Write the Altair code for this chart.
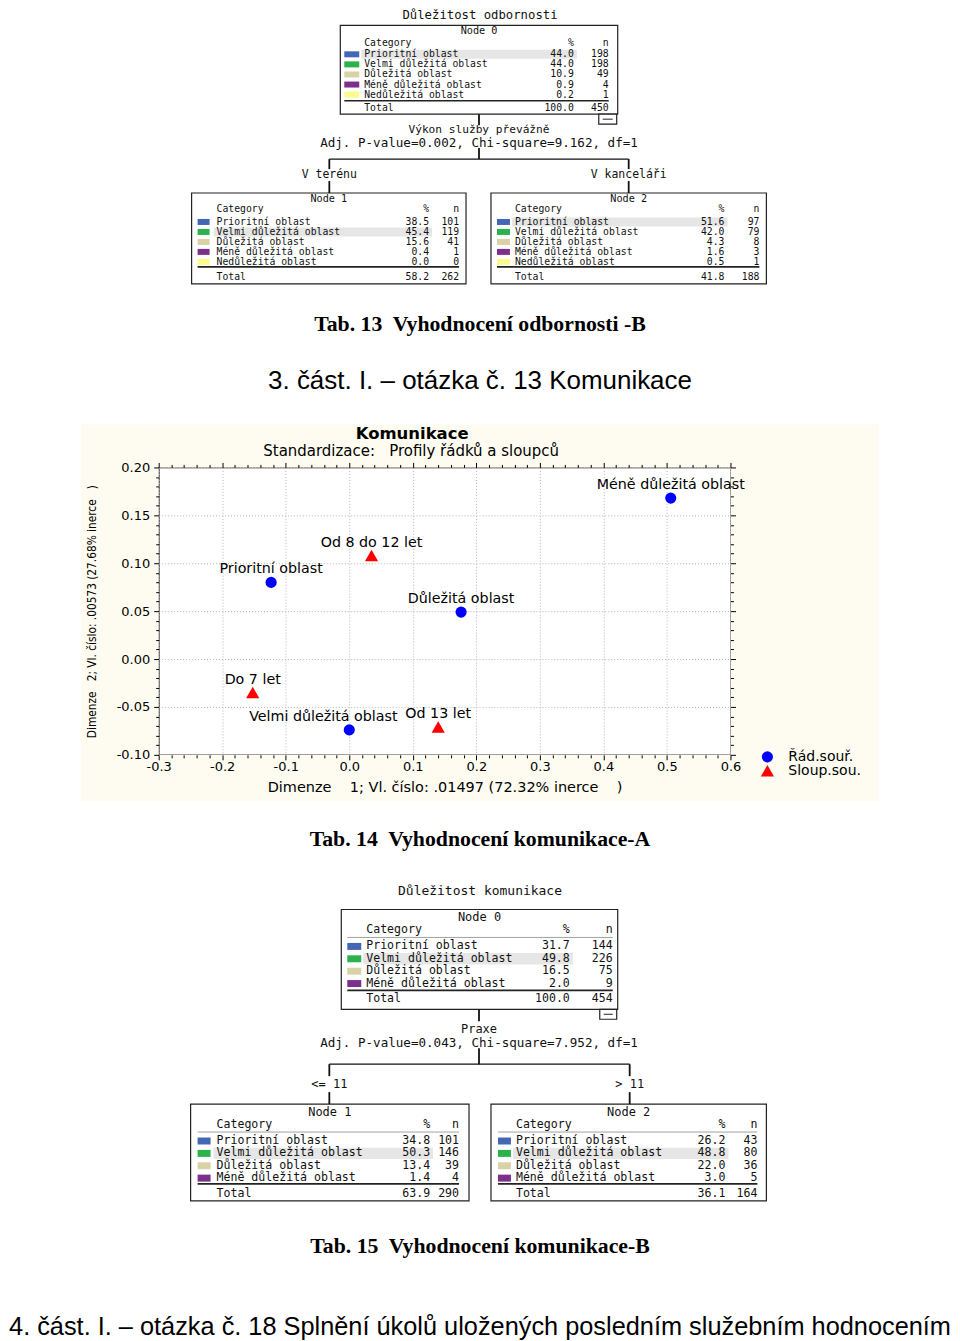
import altair as alt
import numpy as np
import pandas as pd

# ======================= DATA =======================
categories = ["Prioritní oblast", "Velmi důležitá oblast", "Důležitá oblast",
              "Méně důležitá oblast", "Nedůležitá oblast"]

# --- tree 1: Důležitost odbornosti ---
t1_title = "Důležitost odbornosti"
t1_split_var = "Výkon služby převážně"
t1_split_stat = "Adj. P-value=0.002, Chi-square=9.162, df=1"
t1_branches = ["V terénu", "V kanceláři"]
t1_node0_pct = [44.0, 44.0, 10.9, 0.9, 0.2]
t1_node0_n = [198, 198, 49, 4, 1]
t1_node1_pct = [38.5, 45.4, 15.6, 0.4, 0.0]
t1_node1_n = [101, 119, 41, 1, 0]
t1_node2_pct = [51.6, 42.0, 4.3, 1.6, 0.5]
t1_node2_n = [97, 79, 8, 3, 1]
t1_total_pct = [100.0, 58.2, 41.8]
t1_total_n = [450, 262, 188]

# --- tree 2: Důležitost komunikace ---
t2_title = "Důležitost komunikace"
t2_split_var = "Praxe"
t2_split_stat = "Adj. P-value=0.043, Chi-square=7.952, df=1"
t2_branches = ["<= 11", "> 11"]
t2_node0_pct = [31.7, 49.8, 16.5, 2.0]
t2_node0_n = [144, 226, 75, 9]
t2_node1_pct = [34.8, 50.3, 13.4, 1.4]
t2_node1_n = [101, 146, 39, 4]
t2_node2_pct = [26.2, 48.8, 22.0, 3.0]
t2_node2_n = [43, 80, 36, 5]
t2_total_pct = [100.0, 63.9, 36.1]
t2_total_n = [454, 290, 164]

# --- correspondence analysis (Komunikace) ---
row_labels = ["Prioritní oblast", "Velmi důležitá oblast", "Důležitá oblast", "Méně důležitá oblast"]
row_dim1 = [-0.123, 0.000, 0.176, 0.506]
row_dim2 = [0.080, -0.074, 0.049, 0.168]
col_labels = ["Do 7 let", "Od 8 do 12 let", "Od 13 let"]
col_dim1 = [-0.152, 0.035, 0.140]
col_dim2 = [-0.035, 0.108, -0.071]
legend_labels = ["Řád.souř.", "Sloup.sou."]
sc_title = "Komunikace"
sc_subtitle = "Standardizace:\u00a0\u00a0 Profily řádků a sloupců"
x_title = "Dimenze\u00a0\u00a0\u00a0 1; Vl. číslo: .01497 (72.32% inerce\u00a0\u00a0\u00a0 )"
y_title = "Dimenze\u00a0\u00a0 2; Vl. číslo: .00573 (27.68% inerce\u00a0\u00a0 )"
x_ticks = [round(v, 2) for v in np.arange(-30, 61, 2) / 100]
y_ticks = [round(v, 2) for v in np.arange(-10, 21, 1) / 100]

captions = ["Tab. 13\u00a0 Vyhodnocení odbornosti -B",
            "Tab. 14\u00a0 Vyhodnocení komunikace-A",
            "Tab. 15\u00a0 Vyhodnocení komunikace-B"]
headings = ["3. část. I. – otázka č. 13 Komunikace",
            "4. část. I. – otázka č. 18 Splnění úkolů uložených posledním služebním hodnocením"]

# ======================= STYLE / LAYOUT =======================
MONO = "DejaVu Sans Mono"
SANS = "DejaVu Sans"
ARIAL = "Liberation Sans, Arial, sans-serif"
SERIF = "Liberation Serif, Times New Roman, serif"
NARROW = "Liberation Sans Narrow, DejaVu Sans Condensed, sans-serif"
CAT_COLORS = ["#4467b5", "#2bb24c", "#d8d2a6", "#7d2f8c", "#fbfb8c"]
PT_COLORS = ["#0000ff", "#ff0000"]
PT_SHAPES = ["circle", "triangle-up"]
CREAM = "#fefcf1"

# all panels share the scatter plot's origin (screen x = 158)
OX = 158
P1_TOP, P3_TOP = 8, 800
P1_H, P3_H = 415, 533
W, H = 573, 288          # scatter plot area
SC_TOP = 466              # screen y of scatter plot top

T1 = dict(
    title=(480, 14, 12.3), fs=9.8, fs_node=10.2, sqh=6, header_rule=False,
    nodes=[
        dict(box=(340, 618, 24, 113), title_y=30, head_y=42, row0=53, step=10.1,
             sep=99.5, total_y=107, tx=364, sq=(344, 359), pr=574, nr=609),
        dict(box=(191, 466, 192, 283), title_y=197.5, head_y=208.5, row0=221, step=10.0,
             sep=266, total_y=276, tx=216, sq=(197, 209), pr=429, nr=459),
        dict(box=(491, 767, 192, 283), title_y=197.5, head_y=208.5, row0=221, step=10.0,
             sep=266, total_y=276, tx=515, sq=(497, 510), pr=725, nr=760),
    ],
    minus=(599, 617, 113, 123), stem=(479, 113, 124), split_y=(128.5, 141.5),
    fs_split=(11.2, 12.6), stem2=(479, 147, 158), hbar_y=158,
    branch_x=(329, 629), branch_lab_y=174, fs_branch=11.5,
    branch_lines=((158, 168), (180, 192)),
)
T2 = dict(
    title=(480, 889, 13), fs=11.6, fs_node=12.0, sqh=7, header_rule=True,
    nodes=[
        dict(box=(341, 618, 908, 1008), title_y=915.5, head_y=929, row0=945, step=12.4,
             sep=989, total_y=998, tx=366, sq=(347, 361), pr=570, nr=613),
        dict(box=(190, 469, 1103, 1200), title_y=1110.5, head_y=1124, row0=1140, step=12.4,
             sep=1183, total_y=1193, tx=216, sq=(197, 210), pr=430, nr=459),
        dict(box=(491, 767, 1103, 1200), title_y=1110.5, head_y=1124, row0=1140, step=12.4,
             sep=1183, total_y=1193, tx=516, sq=(498, 511), pr=726, nr=758),
    ],
    minus=(600, 617, 1008, 1018), stem=(479, 1008, 1020), split_y=(1027.5, 1041.5),
    fs_split=(12.0, 12.6), stem2=(479, 1047, 1063), hbar_y=1063,
    branch_x=(329, 630), branch_lab_y=1083, fs_branch=12.0,
    branch_lines=((1063, 1075), (1091, 1103)),
)


def build_tree(T, title, split_var, split_stat, branches, pcts, ns, tot_pct, tot_n, top):
    X = lambda v: v - OX
    Y = lambda v: v - top
    boxes, hls, sqs, rules, tc, tl, tr = [], [], [], [], [], [], []
    tc.append(dict(t=title, x=X(T['title'][0]), y=Y(T['title'][1]), s=T['title'][2]))
    for k, L in enumerate(T['nodes']):
        pct, n = pcts[k], ns[k]
        x0, x1, y0, y1 = L['box']
        fs = T['fs']
        boxes.append(dict(x=X(x0), x2=X(x1), y=Y(y0), y2=Y(y1)))
        tc.append(dict(t=f"Node {k}", x=X((x0 + x1) / 2), y=Y(L['title_y']), s=T['fs_node']))
        tl.append(dict(t="Category", x=X(L['tx']), y=Y(L['head_y']), s=fs))
        tr.append(dict(t="%", x=X(L['pr']), y=Y(L['head_y']), s=fs))
        tr.append(dict(t="n", x=X(L['nr']), y=Y(L['head_y']), s=fs))
        if T['header_rule']:
            hy = Y(L['head_y'] + 7)
            rules.append(dict(x=X(L['sq'][0]), x2=X(L['nr']), y=hy, y2=hy, w=0.8, c="#8a8a8a"))
        best = int(np.argmax(n))
        for i, (p, m) in enumerate(zip(pct, n)):
            ry = L['row0'] + i * L['step']
            if i == best:
                hls.append(dict(x=X(L['tx'] - 3), x2=X(L['pr'] + 3),
                                y=Y(ry - L['step'] / 2 + 0.5), y2=Y(ry + L['step'] / 2 - 0.5)))
            sqs.append(dict(x=X(L['sq'][0]), x2=X(L['sq'][1]), y=Y(ry - T['sqh'] / 2),
                            y2=Y(ry + T['sqh'] / 2), c=CAT_COLORS[i]))
            tl.append(dict(t=categories[i], x=X(L['tx']), y=Y(ry), s=fs))
            tr.append(dict(t=f"{p:.1f}", x=X(L['pr']), y=Y(ry), s=fs))
            tr.append(dict(t=str(m), x=X(L['nr']), y=Y(ry), s=fs))
        rules.append(dict(x=X(L['sq'][0]), x2=X(L['nr']), y=Y(L['sep']), y2=Y(L['sep']), w=1.6, c="#222"))
        tl.append(dict(t="Total", x=X(L['tx']), y=Y(L['total_y']), s=fs))
        tr.append(dict(t=f"{tot_pct[k]:.1f}", x=X(L['pr']), y=Y(L['total_y']), s=fs))
        tr.append(dict(t=str(tot_n[k]), x=X(L['nr']), y=Y(L['total_y']), s=fs))
    mx0, mx1, my0, my1 = T['minus']
    boxes.append(dict(x=X(mx0), x2=X(mx1), y=Y(my0), y2=Y(my1)))
    rules.append(dict(x=X(mx0 + 4), x2=X(mx1 - 4), y=Y((my0 + my1) / 2), y2=Y((my0 + my1) / 2), w=1, c="#222"))
    sx, a, b = T['stem']
    rules.append(dict(x=X(sx), x2=X(sx), y=Y(a), y2=Y(b), w=1.8, c="#111"))
    tc.append(dict(t=split_var, x=X(sx), y=Y(T['split_y'][0]), s=T['fs_split'][0]))
    tc.append(dict(t=split_stat, x=X(sx), y=Y(T['split_y'][1]), s=T['fs_split'][1]))
    sx2, a2, b2 = T['stem2']
    rules.append(dict(x=X(sx2), x2=X(sx2), y=Y(a2), y2=Y(b2), w=1.8, c="#111"))
    hb = Y(T['hbar_y'])
    rules.append(dict(x=X(T['branch_x'][0]), x2=X(T['branch_x'][1]), y=hb, y2=hb, w=1.4, c="#111"))
    for bx, lab in zip(T['branch_x'], branches):
        for (la, lb) in T['branch_lines']:
            rules.append(dict(x=X(bx), x2=X(bx), y=Y(la), y2=Y(lb), w=1.8, c="#111"))
        tc.append(dict(t=lab, x=X(bx), y=Y(T['branch_lab_y']), s=T['fs_branch']))

    enc_xy = dict(x=alt.X('x:Q', scale=None), y=alt.Y('y:Q', scale=None))
    rect_enc = dict(x=alt.X('x:Q', scale=None), x2=alt.X2('x2:Q'),
                    y=alt.Y('y:Q', scale=None), y2=alt.Y2('y2:Q'))
    layers = [
        alt.Chart(pd.DataFrame(boxes)).mark_rect(fill="white", stroke="#222", strokeWidth=1.2).encode(**rect_enc),
        alt.Chart(pd.DataFrame(hls)).mark_rect(fill="#e6e6e6").encode(**rect_enc),
        alt.Chart(pd.DataFrame(sqs)).mark_rect().encode(color=alt.Color('c:N', scale=None), **rect_enc),
        alt.Chart(pd.DataFrame(rules)).mark_rule().encode(
            x=alt.X('x:Q', scale=None), x2=alt.X2('x2:Q'), y=alt.Y('y:Q', scale=None), y2=alt.Y2('y2:Q'),
            color=alt.Color('c:N', scale=None), strokeWidth=alt.StrokeWidth('w:Q', scale=None)),
    ]
    for df, al in ((tc, "center"), (tl, "left"), (tr, "right")):
        layers.append(alt.Chart(pd.DataFrame(df)).mark_text(
            align=al, baseline="middle", font=MONO, color="#111").encode(
            text='t:N', size=alt.Size('s:Q', scale=None), **enc_xy))
    return layers


def text_layer(items, font, weight, top):
    df = pd.DataFrame([dict(t=t, x=x - OX, y=y - top, s=s) for (t, x, y, s) in items])
    return alt.Chart(df).mark_text(align="center", baseline="middle", font=font,
                                   fontWeight=weight, color="black").encode(
        x=alt.X('x:Q', scale=None), y=alt.Y('y:Q', scale=None), text='t:N',
        size=alt.Size('s:Q', scale=None))


one = pd.DataFrame({'k': [0]})


def vrect(x0, x1, y0, y1, color, opacity=1.0):
    return alt.Chart(one).mark_rect(color=color, opacity=opacity).encode(
        x=alt.value(x0), x2=alt.value(x1), y=alt.value(y0), y2=alt.value(y1))


# ---------------- panel 1 ----------------
p1_layers = [vrect(8 - OX, 952 - OX, 0, P1_H, "white", 0.0)]
p1_layers += build_tree(T1, t1_title, t1_split_var, t1_split_stat, t1_branches,
                        [t1_node0_pct, t1_node1_pct, t1_node2_pct],
                        [t1_node0_n, t1_node1_n, t1_node2_n],
                        t1_total_pct, t1_total_n, P1_TOP)
p1_layers.append(text_layer([(captions[0], 480, 323, 21.8)], SERIF, "bold", P1_TOP))
p1_layers.append(text_layer([(headings[0], 480, 380, 26)], ARIAL, "normal", P1_TOP))
panel1 = alt.layer(*p1_layers).properties(width=W, height=P1_H)

# ---------------- panel 2 : scatter ----------------
sc = pd.DataFrame({
    'label': row_labels + col_labels,
    'd1': row_dim1 + col_dim1,
    'd2': row_dim2 + col_dim2,
    'typ': [legend_labels[0]] * len(row_labels) + [legend_labels[1]] * len(col_labels),
})
xs = alt.Scale(domain=[-0.3, 0.6], nice=False, zero=False)
ys = alt.Scale(domain=[-0.10, 0.20], nice=False, zero=False)
MAJ_X = "abs(datum.value*10 - round(datum.value*10)) < 0.001"
MAJ_Y = "abs(datum.value*20 - round(datum.value*20)) < 0.001"


def cond(test, a, b):
    return {"condition": {"test": test, "value": a}, "value": b}


x_grid = alt.Axis(orient="bottom", values=x_ticks, labels=False, ticks=False, domain=False, title=None,
                  grid=True, gridColor="#b4b4b4", gridDash=[1, 2], gridOpacity=cond(MAJ_X, 1, 0), zindex=0)
y_grid = alt.Axis(orient="left", values=y_ticks, labels=False, ticks=False, domain=False, title=None,
                  grid=True, gridColor="#b4b4b4", gridDash=[1, 2], gridOpacity=cond(MAJ_Y, 1, 0), zindex=0)
common_axis = dict(labelOverlap=False, labelFlush=False, domain=False, grid=False, tickColor="black",
                   labelFont=SANS, labelFontSize=13, labelColor="black", zindex=1,
                   titleFontWeight="normal", titleColor="black")
x_bottom = alt.Axis(orient="bottom", values=x_ticks, title=x_title,
                    labelExpr=f"{MAJ_X} ? replace(format(datum.value, '.1f'), '\u2212', '-') : ''",
                    tickSize=cond(MAJ_X, 5, 3), labelPadding=1,
                    titleFont=SANS, titleFontSize=14.5, titlePadding=7, **common_axis)
y_left = alt.Axis(orient="left", values=y_ticks, title=y_title,
                  labelExpr=f"{MAJ_Y} ? replace(format(datum.value, '.2f'), '\u2212', '-') : ''",
                  tickSize=cond(MAJ_Y, 5, 3), labelPadding=4,
                  titleFont=NARROW, titleFontSize=11.8, titlePadding=19, **common_axis)
x_top = alt.Axis(orient="top", values=x_ticks, labels=False, grid=False, domain=False, title=None,
                 tickColor="black", tickSize=cond(MAJ_X, 5, 3), zindex=1)
y_right = alt.Axis(orient="right", values=y_ticks, labels=False, grid=False, domain=False, title=None,
                   tickColor="black", tickSize=cond(MAJ_Y, 5, 3), zindex=1)

# legend (positioned in the concat's coordinate frame)
leg = alt.Legend(orient="none", legendX=603, legendY=(SC_TOP - 8) + 284, title=None, labelFont=SANS,
                 labelFontSize=14, labelColor="black", symbolSize=140, symbolStrokeWidth=0,
                 labelOffset=14, rowPadding=0, padding=0)

grid_layer = alt.Chart(sc).mark_point(opacity=0).encode(
    x=alt.X('d1:Q', scale=xs, axis=x_grid), y=alt.Y('d2:Q', scale=ys, axis=y_grid))
pts = alt.Chart(sc).mark_point(filled=True, opacity=1, strokeWidth=0).encode(
    x=alt.X('d1:Q', scale=xs, axis=x_bottom),
    y=alt.Y('d2:Q', scale=ys, axis=y_left),
    color=alt.Color('typ:N', scale=alt.Scale(domain=legend_labels, range=PT_COLORS), legend=leg),
    shape=alt.Shape('typ:N', scale=alt.Scale(domain=legend_labels, range=PT_SHAPES), legend=leg),
    size=alt.Size('typ:N', scale=alt.Scale(domain=legend_labels, range=[125, 175]), legend=None),
)
frame_axes = alt.Chart(sc).mark_point(opacity=0).encode(
    x=alt.X('d1:Q', scale=xs, axis=x_top), y=alt.Y('d2:Q', scale=ys, axis=y_right))

LABEL_DX = {"Velmi důležitá oblast": -26}
LABEL_FS = 14.3
label_layers = []
plain = sc[~sc['label'].isin(list(LABEL_DX))]
label_layers.append(alt.Chart(plain).mark_text(dy=-13, font=SANS, fontSize=LABEL_FS, color="black").encode(
    x=alt.X('d1:Q', scale=xs, axis=None), y=alt.Y('d2:Q', scale=ys, axis=None), text='label:N'))
for lab, ddx in LABEL_DX.items():
    label_layers.append(alt.Chart(sc[sc['label'] == lab]).mark_text(
        dy=-13, dx=ddx, font=SANS, fontSize=LABEL_FS, color="black").encode(
        x=alt.X('d1:Q', scale=xs, axis=None), y=alt.Y('d2:Q', scale=ys, axis=None), text='label:N'))

# cream surround (plot-relative pixels): screen x 80-880, y 423-800
bands = [
    vrect(8 - OX, 952 - OX, 0, 1, "white", 0.0),
    vrect(80 - OX, 0, 423 - SC_TOP, 800 - SC_TOP, CREAM),
    vrect(W, 880 - OX, 423 - SC_TOP, 800 - SC_TOP, CREAM),
    vrect(0, W, 423 - SC_TOP, 0, CREAM),
    vrect(0, W, H, 800 - SC_TOP, CREAM),
]
title_layers = [
    alt.Chart(one).mark_text(text=sc_title, font=SANS, fontSize=16.5, fontWeight="bold", color="black",
                             baseline="middle").encode(x=alt.value(412 - OX), y=alt.value(432 - SC_TOP)),
    alt.Chart(one).mark_text(text=sc_subtitle, font=SANS, fontSize=15, color="black",
                             baseline="middle").encode(x=alt.value(411 - OX), y=alt.value(450 - SC_TOP)),
]

scatter = alt.layer(*bands, grid_layer, frame_axes, pts, *label_layers, *title_layers).resolve_axis(
    x="independent", y="independent").properties(
    width=W, height=H,
    view=alt.ViewBackground(fill="white", stroke="black", strokeWidth=1.2))

# ---------------- panel 3 ----------------
p3_layers = [vrect(8 - OX, 952 - OX, 0, P3_H, "white", 0.0)]
p3_layers += build_tree(T2, t2_title, t2_split_var, t2_split_stat, t2_branches,
                        [t2_node0_pct, t2_node1_pct, t2_node2_pct],
                        [t2_node0_n, t2_node1_n, t2_node2_n],
                        t2_total_pct, t2_total_n, P3_TOP)
p3_layers.append(text_layer([(captions[1], 480, 837, 21.8), (captions[2], 480, 1245, 21.8)],
                            SERIF, "bold", P3_TOP))
p3_layers.append(text_layer([(headings[1], 480, 1326, 25.4)], ARIAL, "normal", P3_TOP))
panel3 = alt.layer(*p3_layers).properties(width=W, height=P3_H)

chart = alt.vconcat(panel1, scatter, panel3, spacing=0).properties(
    padding=0).configure_view(strokeWidth=0)

chart.save("out.html", embed_options={"renderer": "svg", "actions": False})
